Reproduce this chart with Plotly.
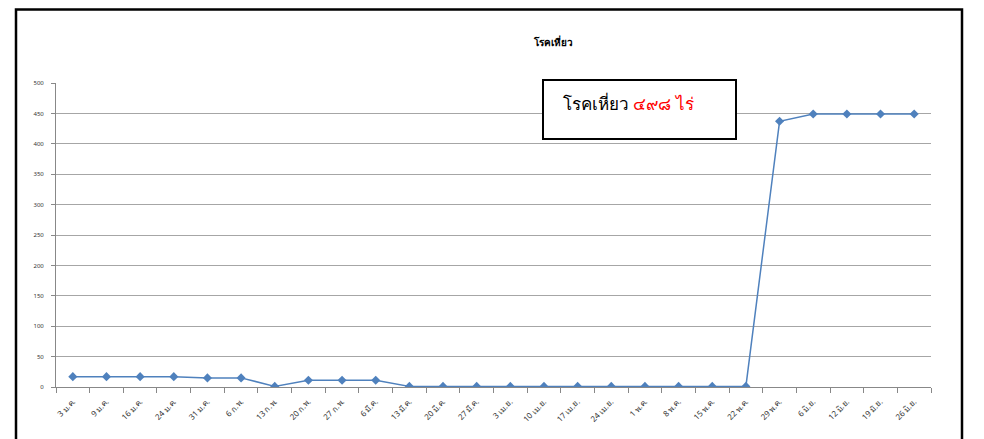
import plotly.graph_objects as go

categories = ["3 ม.ค.", "9 ม.ค.", "16 ม.ค.", "24 ม.ค.", "31 ม.ค.", "6 ก.พ.", "13 ก.พ.",
              "20 ก.พ.", "27 ก.พ.", "6 มี.ค.", "13 มี.ค.", "20 มี.ค.", "27 มี.ค.", "3 เม.ย.",
              "10 เม.ย.", "17 เม.ย.", "24 เม.ย.", "1 พ.ค.", "8 พ.ค.", "15 พ.ค.", "22 พ.ค.",
              "29 พ.ค.", "6 มิ.ย.", "12 มิ.ย.", "19 มิ.ย.", "26 มิ.ย."]
values = [17, 17, 17, 17, 15, 15, 1, 11, 11, 11, 1, 1, 1, 1,
          1, 1, 1, 1, 1, 1, 1, 437, 449, 449, 449, 449]
y_ticks = [0, 50, 100, 150, 200, 250, 300, 350, 400, 450, 500]

title_text = "โรคเหี่ยว"
box_label = "โรคเหี่ยว"
box_value = "๔๙๘ ไร่"

OFF = 8  # page body margin
L, R, T, B = 48, 923, 75, 379
PW, PH = R - L, B - T


def px(x):
    return (x - OFF - L) / PW


def py(y):
    return (B - (y - OFF)) / PH


fig = go.Figure()
fig.add_trace(go.Scatter(
    x=categories, y=values, mode="lines+markers",
    line=dict(color="#4F81BD", width=1.5),
    marker=dict(symbol="diamond", size=7, color="#4F81BD"),
    showlegend=False, hoverinfo="x+y",
))

fig.update_layout(
    width=984, height=439,
    margin=dict(l=L, r=984 - R, t=T, b=439 - B),
    paper_bgcolor="white", plot_bgcolor="white",
    font=dict(family="Noto Sans, DejaVu Sans, sans-serif", color="#333333"),
    title=dict(text="<b>" + title_text + "</b>", x=(553 - OFF) / 984, xanchor="center",
               y=1 - (42 - OFF) / 439, yanchor="middle",
               font=dict(size=10, color="#000000")),
    xaxis=dict(
        type="category", tickson="boundaries", ticks="outside", ticklen=5,
        tickcolor="#888888", showline=True, linecolor="#888888", linewidth=1,
        showgrid=False, tickangle=-45, tickfont=dict(size=8, color="#333333"),
        range=[-0.5, len(categories) - 0.5], ticklabelstandoff=6,
    ),
    yaxis=dict(
        range=[0, 500], tickvals=y_ticks, ticks="outside", ticklen=4,
        tickcolor="#888888", showline=True, linecolor="#888888", linewidth=1,
        showgrid=True, gridcolor="#A6A6A6", gridwidth=1,
        tickfont=dict(size=6, color="#333333"), zeroline=False,
        ticklabelstandoff=6,
    ),
    shapes=[
        # outer chart frame
        dict(type="rect", xref="paper", yref="paper",
             x0=px(16), x1=px(962), y0=py(480), y1=py(9.5),
             line=dict(color="#000000", width=2.5), fillcolor="rgba(0,0,0,0)", layer="above"),
        # text box
        dict(type="rect", xref="paper", yref="paper",
             x0=px(543), x1=px(736), y0=py(139), y1=py(80),
             line=dict(color="#000000", width=2), fillcolor="white", layer="above"),
    ],
    annotations=[
        dict(xref="paper", yref="paper", x=px(561), y=py(104),
             xanchor="left", yanchor="middle", showarrow=False,
             text=box_label + " <span style='color:#FF0000'>" + box_value + "</span>",
             font=dict(size=17, color="#000000")),
    ],
)

fig.write_html("out.html")
